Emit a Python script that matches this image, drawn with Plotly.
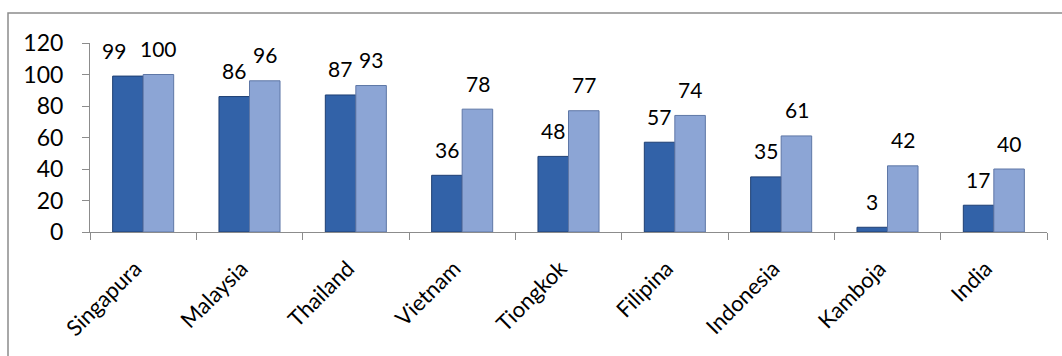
import plotly.graph_objects as go

categories = ["Singapura", "Malaysia", "Thailand", "Vietnam", "Tiongkok",
              "Filipina", "Indonesia", "Kamboja", "India"]
series_a = [99, 86, 87, 36, 48, 57, 35, 3, 17]
series_b = [100, 96, 93, 78, 77, 74, 61, 42, 40]
y_ticks = [0, 20, 40, 60, 80, 100, 120]

FONT = "Lato, 'Open Sans', sans-serif"

fig = go.Figure()
fig.add_trace(go.Bar(x=categories, y=series_a, name="A",
                     marker=dict(color="#3262A8", line=dict(color="#1E3F73", width=1))))
fig.add_trace(go.Bar(x=categories, y=series_b, name="B",
                     marker=dict(color="#8CA5D5", line=dict(color="#5E77A6", width=1))))

annotations = []
for cat, a, b in zip(categories, series_a, series_b):
    # simple collision avoidance: when both labels sit at about the same height,
    # nudge the left label outward like the spreadsheet renderer does
    left_shift = -15.5 - (14 if abs(a - b) < 3 else 0)
    annotations.append(dict(x=cat, y=a, xref="x", yref="y", text=str(a), showarrow=False,
                            xshift=left_shift, yshift=26, font=dict(family=FONT, size=21, color="#000")))
    annotations.append(dict(x=cat, y=b, xref="x", yref="y", text=str(b), showarrow=False,
                            xshift=15.5, yshift=26, font=dict(family=FONT, size=21, color="#000")))

fig.update_layout(
    width=1062, height=356,
    margin=dict(l=90, r=15, t=43, b=124),
    paper_bgcolor="white", plot_bgcolor="white",
    barmode="group", bargap=0.426, bargroupgap=0,
    showlegend=False,
    font=dict(family=FONT, size=20, color="#000"),
    annotations=annotations,
    shapes=[dict(type="rect", xref="paper", yref="paper",
                 x0=(8 - 90) / 957, x1=(1075 - 90) / 957,
                 y0=(232 - 370) / 189, y1=(232 - 13) / 189,
                 line=dict(color="#8C8C8C", width=1.5), fillcolor="rgba(0,0,0,0)", layer="below")],
)
fig.update_yaxes(range=[0, 120], tickvals=y_ticks, showgrid=False, zeroline=False,
                 showline=True, linecolor="#8C8C8C", linewidth=1,
                 ticks="outside", ticklen=7, tickcolor="#8C8C8C",
                 ticklabelstandoff=14, tickfont=dict(family=FONT, size=23, color="#000"))
fig.update_xaxes(showgrid=False, showline=True, linecolor="#8C8C8C", linewidth=1,
                 ticks="outside", ticklen=7, tickcolor="#8C8C8C", tickson="boundaries",
                 ticklabelshift=-8, ticklabelstandoff=14,
                 tickangle=-45, tickfont=dict(family=FONT, size=22, color="#000"))

fig.write_html("out.html")
